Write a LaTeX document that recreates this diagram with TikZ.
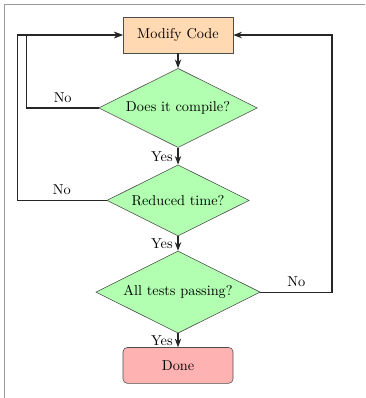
\documentclass[tikz,border=0pt]{standalone}
\usetikzlibrary{shapes.geometric,arrows.meta}

\begin{document}
\begin{tikzpicture}
  [>={Stealth[length=6pt,width=4.5pt]},
   proc/.style={rectangle,draw=black!70,fill=orange!30,minimum width=2.7cm,minimum height=0.88cm},
   test/.style={diamond,aspect=2,draw=black!70,fill=green!30},
   stop/.style={rectangle,rounded corners=3pt,draw=black!70,fill=red!30,minimum width=2.7cm,minimum height=0.88cm},
   flow/.style={->,thick,black!85}]
  \useasboundingbox (-4.37,-8.91) rectangle (4.59,0.86);
  \draw[black!40,line width=0.7pt] (-4.25,-8.91) -- (-4.25,0.74) -- (4.59,0.74);

  \node[proc] (ncode) at (0,0) {Modify Code};
  \node[test] (ncomp) at (0,-1.79) {Does it compile?};
  \node[test] (ntime) at (0,-4.06) {Reduced time?};
  \node[test] (ntests) at (0,-6.31) {All tests passing?};
  \node[stop] (ndone) at (0,-8.11) {Done};

  \coordinate (cin) at (-3.71,0);
  \coordinate (cout) at (-3.95,0);
  \coordinate (cright) at (3.78,0);

  \draw[flow] (ncode) -- (ncomp);
  \foreach \from/\to in {ncomp/ntime,ntime/ntests,ntests/ndone}
    \draw[flow] (\from) -- node[left,black] {Yes} (\to);

  \draw[flow] (ncomp.west) -- node[above,black] {No} (ncomp.west -| cin) |- (ncode.west);
  \draw[flow] (ntime.west) -- node[above,black] {No} (ntime.west -| cout) |- (ncode.west);
  \draw[flow] (ntests.east) -- node[above,black] {No} (ntests.east -| cright) |- (ncode.east);
\end{tikzpicture}
\end{document}
